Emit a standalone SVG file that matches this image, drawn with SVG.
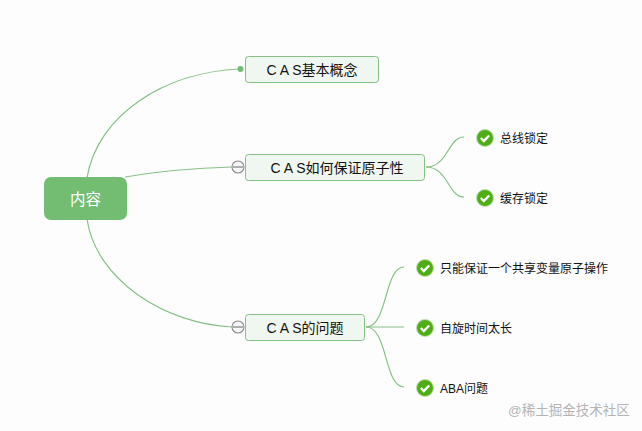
<svg xmlns="http://www.w3.org/2000/svg" width="642" height="431" viewBox="0 0 642 431">
<style>
text{font-family:"Liberation Sans","Noto Sans CJK SC",sans-serif;fill:#111}
.c{fill:none;stroke:#88c088;stroke-width:1.2}
.b{fill:#f0f7f0;stroke:#85c085;stroke-width:1}
.t{font-size:14px;text-anchor:middle}
.l{font-size:12px}
.o{fill:#f7f7f7;stroke:#8f8a8f;stroke-width:1.1}
.m{stroke:#666;stroke-width:1}
.k{fill:none;stroke:#fff;stroke-width:2.4}
.g{fill:#4fae14;stroke:#c3dfb4;stroke-width:1}
</style>
<defs>
<g id="chk"><circle class="g" r="8.500"/><path class="k" d="M-4.200 0L-1.200 3L4.200-2.500"/></g>
</defs>
<rect width="642" height="431" fill="#fdfdfd"/>
<g id="connectors">
<path class="c" d="M87 178C97 115 165 72 240 69"/>
<path class="c" d="M125 177C160 171 195 168 232 167"/>
<path class="c" d="M87 219C96 280 165 324 232 327"/>
<path class="c" d="M426 167C448 167 448 137 464 137"/>
<path class="c" d="M426 167C448 167 448 197 464 197"/>
<path class="c" d="M366 327C388 327 384 267 404 267"/>
<path class="c" d="M366 327H404"/>
<path class="c" d="M366 327C388 327 384 387 404 387"/>
</g>
<g id="root"><rect x="44" y="177" width="83" height="43" rx="7" fill="#72bd72"/><text x="85.500" y="205" font-size="15.500" text-anchor="middle" style="fill:#fff">内容</text></g>
<g id="n1"><circle cx="240.500" cy="69" r="3" fill="#72bd72"/><rect class="b" x="245.500" y="56.500" width="133" height="26" rx="3"/><text class="t" x="312" y="75">C A S基本概念</text></g>
<g id="n2"><circle class="o" cx="238" cy="167" r="6"/><path class="m" d="M233 167H243"/><rect class="b" x="245.500" y="154.500" width="179" height="26" rx="3"/><text class="t" x="337" y="173">C A S如何保证原子性</text></g>
<g id="n3"><circle class="o" cx="238" cy="327" r="6"/><path class="m" d="M233 327H243"/><rect class="b" x="245.500" y="314.500" width="119" height="26" rx="3"/><text class="t" x="305" y="333">C A S的问题</text></g>
<g id="a1"><use href="#chk" x="485" y="138"/><text class="l" x="500" y="143">总线锁定</text></g>
<g id="a2"><use href="#chk" x="485" y="198"/><text class="l" x="500" y="203">缓存锁定</text></g>
<g id="b1"><use href="#chk" x="425" y="268"/><text class="l" x="440" y="273">只能保证一个共享变量原子操作</text></g>
<g id="b2"><use href="#chk" x="425" y="328"/><text class="l" x="440" y="333">自旋时间太长</text></g>
<g id="b3"><use href="#chk" x="425" y="388"/><text class="l" x="440" y="393">ABA问题</text></g>
<text x="508" y="414.500" font-size="13.500" style="fill:#b5b5b5">@稀土掘金技术社区</text>
</svg>
